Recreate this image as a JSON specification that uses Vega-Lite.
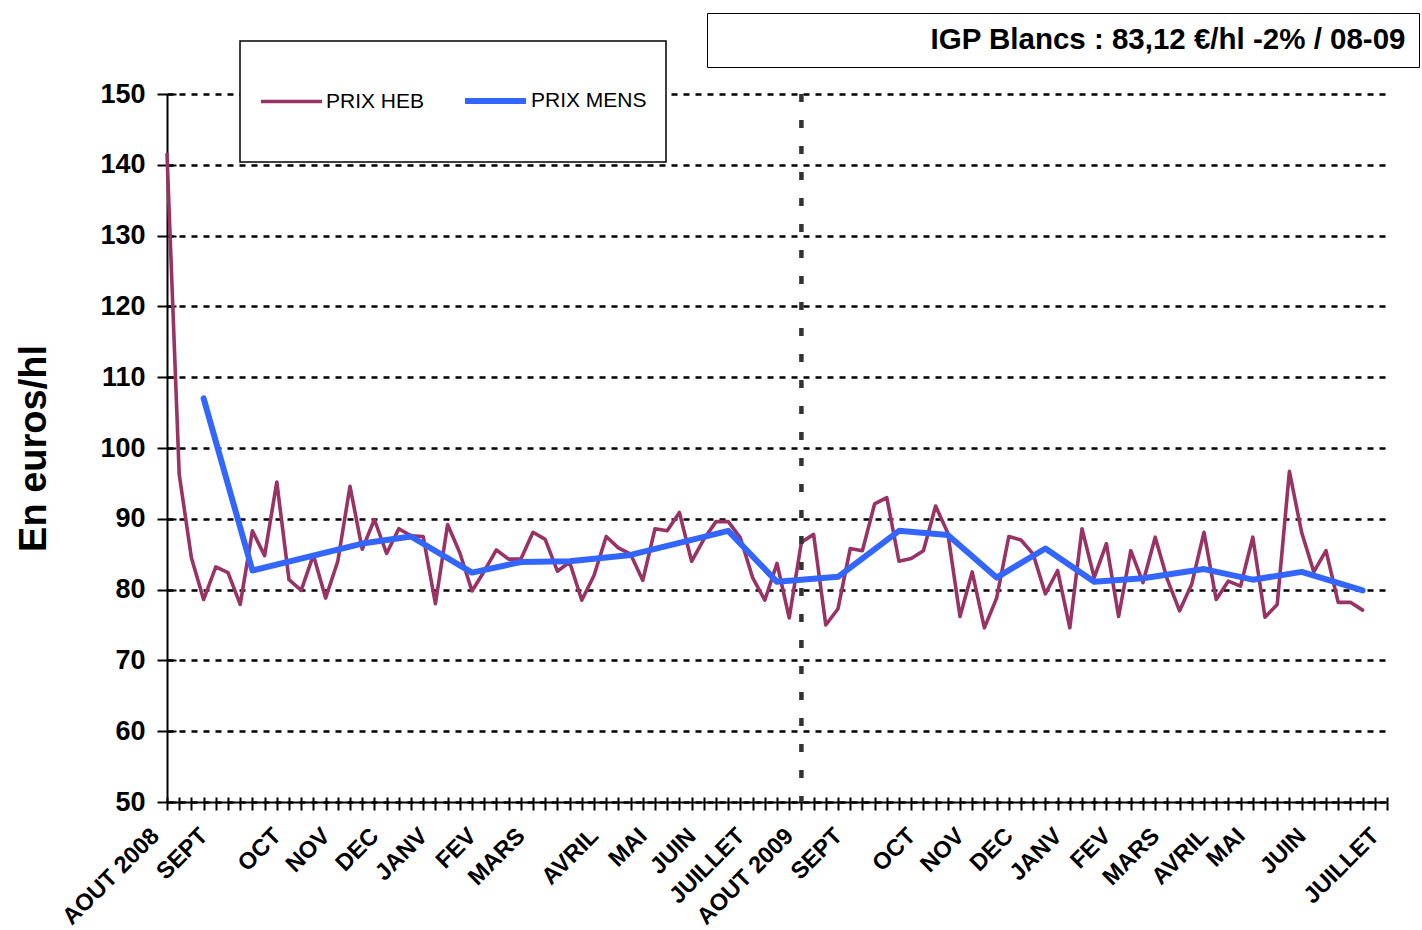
{
  "$schema": "https://vega.github.io/schema/vega-lite/v6.json",
  "width": 1220,
  "height": 708,
  "autosize": {"type": "none"},
  "padding": {"left": 167, "top": 94, "right": 35, "bottom": 128},
  "background": "white",
  "config": {"font": "Liberation Sans", "view": {"stroke": null}},
  "resolve": {"axis": {"x": "independent", "y": "independent"}},
  "layer": [
    {
      "data": {"values": [
        {"semaine": 0, "prix": 141.5, "serie": "PRIX HEB"},
        {"semaine": 1, "prix": 96.3, "serie": "PRIX HEB"},
        {"semaine": 2, "prix": 84.5, "serie": "PRIX HEB"},
        {"semaine": 3, "prix": 78.6, "serie": "PRIX HEB"},
        {"semaine": 4, "prix": 83.2, "serie": "PRIX HEB"},
        {"semaine": 5, "prix": 82.4, "serie": "PRIX HEB"},
        {"semaine": 6, "prix": 77.9, "serie": "PRIX HEB"},
        {"semaine": 7, "prix": 88.3, "serie": "PRIX HEB"},
        {"semaine": 8, "prix": 84.8, "serie": "PRIX HEB"},
        {"semaine": 9, "prix": 95.2, "serie": "PRIX HEB"},
        {"semaine": 10, "prix": 81.4, "serie": "PRIX HEB"},
        {"semaine": 11, "prix": 79.9, "serie": "PRIX HEB"},
        {"semaine": 12, "prix": 84.9, "serie": "PRIX HEB"},
        {"semaine": 13, "prix": 78.8, "serie": "PRIX HEB"},
        {"semaine": 14, "prix": 84.0, "serie": "PRIX HEB"},
        {"semaine": 15, "prix": 94.6, "serie": "PRIX HEB"},
        {"semaine": 16, "prix": 85.7, "serie": "PRIX HEB"},
        {"semaine": 17, "prix": 89.9, "serie": "PRIX HEB"},
        {"semaine": 18, "prix": 85.1, "serie": "PRIX HEB"},
        {"semaine": 19, "prix": 88.6, "serie": "PRIX HEB"},
        {"semaine": 20, "prix": 87.6, "serie": "PRIX HEB"},
        {"semaine": 21, "prix": 87.5, "serie": "PRIX HEB"},
        {"semaine": 22, "prix": 78.0, "serie": "PRIX HEB"},
        {"semaine": 23, "prix": 89.2, "serie": "PRIX HEB"},
        {"semaine": 24, "prix": 85.2, "serie": "PRIX HEB"},
        {"semaine": 25, "prix": 79.8, "serie": "PRIX HEB"},
        {"semaine": 26, "prix": 82.6, "serie": "PRIX HEB"},
        {"semaine": 27, "prix": 85.6, "serie": "PRIX HEB"},
        {"semaine": 28, "prix": 84.3, "serie": "PRIX HEB"},
        {"semaine": 29, "prix": 84.3, "serie": "PRIX HEB"},
        {"semaine": 30, "prix": 88.1, "serie": "PRIX HEB"},
        {"semaine": 31, "prix": 87.1, "serie": "PRIX HEB"},
        {"semaine": 32, "prix": 82.6, "serie": "PRIX HEB"},
        {"semaine": 33, "prix": 83.9, "serie": "PRIX HEB"},
        {"semaine": 34, "prix": 78.5, "serie": "PRIX HEB"},
        {"semaine": 35, "prix": 82.0, "serie": "PRIX HEB"},
        {"semaine": 36, "prix": 87.5, "serie": "PRIX HEB"},
        {"semaine": 37, "prix": 85.9, "serie": "PRIX HEB"},
        {"semaine": 38, "prix": 85.0, "serie": "PRIX HEB"},
        {"semaine": 39, "prix": 81.3, "serie": "PRIX HEB"},
        {"semaine": 40, "prix": 88.6, "serie": "PRIX HEB"},
        {"semaine": 41, "prix": 88.3, "serie": "PRIX HEB"},
        {"semaine": 42, "prix": 90.9, "serie": "PRIX HEB"},
        {"semaine": 43, "prix": 84.0, "serie": "PRIX HEB"},
        {"semaine": 44, "prix": 87.1, "serie": "PRIX HEB"},
        {"semaine": 45, "prix": 89.6, "serie": "PRIX HEB"},
        {"semaine": 46, "prix": 89.6, "serie": "PRIX HEB"},
        {"semaine": 47, "prix": 87.3, "serie": "PRIX HEB"},
        {"semaine": 48, "prix": 81.7, "serie": "PRIX HEB"},
        {"semaine": 49, "prix": 78.5, "serie": "PRIX HEB"},
        {"semaine": 50, "prix": 83.7, "serie": "PRIX HEB"},
        {"semaine": 51, "prix": 76.0, "serie": "PRIX HEB"},
        {"semaine": 52, "prix": 86.7, "serie": "PRIX HEB"},
        {"semaine": 53, "prix": 87.8, "serie": "PRIX HEB"},
        {"semaine": 54, "prix": 75.0, "serie": "PRIX HEB"},
        {"semaine": 55, "prix": 77.3, "serie": "PRIX HEB"},
        {"semaine": 56, "prix": 85.8, "serie": "PRIX HEB"},
        {"semaine": 57, "prix": 85.5, "serie": "PRIX HEB"},
        {"semaine": 58, "prix": 92.1, "serie": "PRIX HEB"},
        {"semaine": 59, "prix": 93.0, "serie": "PRIX HEB"},
        {"semaine": 60, "prix": 84.0, "serie": "PRIX HEB"},
        {"semaine": 61, "prix": 84.4, "serie": "PRIX HEB"},
        {"semaine": 62, "prix": 85.5, "serie": "PRIX HEB"},
        {"semaine": 63, "prix": 91.8, "serie": "PRIX HEB"},
        {"semaine": 64, "prix": 88.0, "serie": "PRIX HEB"},
        {"semaine": 65, "prix": 76.2, "serie": "PRIX HEB"},
        {"semaine": 66, "prix": 82.5, "serie": "PRIX HEB"},
        {"semaine": 67, "prix": 74.6, "serie": "PRIX HEB"},
        {"semaine": 68, "prix": 78.8, "serie": "PRIX HEB"},
        {"semaine": 69, "prix": 87.5, "serie": "PRIX HEB"},
        {"semaine": 70, "prix": 87.0, "serie": "PRIX HEB"},
        {"semaine": 71, "prix": 85.0, "serie": "PRIX HEB"},
        {"semaine": 72, "prix": 79.4, "serie": "PRIX HEB"},
        {"semaine": 73, "prix": 82.7, "serie": "PRIX HEB"},
        {"semaine": 74, "prix": 74.6, "serie": "PRIX HEB"},
        {"semaine": 75, "prix": 88.6, "serie": "PRIX HEB"},
        {"semaine": 76, "prix": 81.7, "serie": "PRIX HEB"},
        {"semaine": 77, "prix": 86.5, "serie": "PRIX HEB"},
        {"semaine": 78, "prix": 76.2, "serie": "PRIX HEB"},
        {"semaine": 79, "prix": 85.5, "serie": "PRIX HEB"},
        {"semaine": 80, "prix": 81.0, "serie": "PRIX HEB"},
        {"semaine": 81, "prix": 87.4, "serie": "PRIX HEB"},
        {"semaine": 82, "prix": 81.4, "serie": "PRIX HEB"},
        {"semaine": 83, "prix": 77.0, "serie": "PRIX HEB"},
        {"semaine": 84, "prix": 80.8, "serie": "PRIX HEB"},
        {"semaine": 85, "prix": 88.1, "serie": "PRIX HEB"},
        {"semaine": 86, "prix": 78.6, "serie": "PRIX HEB"},
        {"semaine": 87, "prix": 81.2, "serie": "PRIX HEB"},
        {"semaine": 88, "prix": 80.5, "serie": "PRIX HEB"},
        {"semaine": 89, "prix": 87.4, "serie": "PRIX HEB"},
        {"semaine": 90, "prix": 76.1, "serie": "PRIX HEB"},
        {"semaine": 91, "prix": 77.9, "serie": "PRIX HEB"},
        {"semaine": 92, "prix": 96.7, "serie": "PRIX HEB"},
        {"semaine": 93, "prix": 88.1, "serie": "PRIX HEB"},
        {"semaine": 94, "prix": 82.5, "serie": "PRIX HEB"},
        {"semaine": 95, "prix": 85.5, "serie": "PRIX HEB"},
        {"semaine": 96, "prix": 78.2, "serie": "PRIX HEB"},
        {"semaine": 97, "prix": 78.2, "serie": "PRIX HEB"},
        {"semaine": 98, "prix": 77.1, "serie": "PRIX HEB"},
        {"semaine": 3, "prix": 107.0, "serie": "PRIX MENS"},
        {"semaine": 7, "prix": 82.7, "serie": "PRIX MENS"},
        {"semaine": 16, "prix": 86.5, "serie": "PRIX MENS"},
        {"semaine": 20, "prix": 87.5, "serie": "PRIX MENS"},
        {"semaine": 25, "prix": 82.4, "serie": "PRIX MENS"},
        {"semaine": 29, "prix": 83.9, "serie": "PRIX MENS"},
        {"semaine": 33, "prix": 84.0, "serie": "PRIX MENS"},
        {"semaine": 38, "prix": 84.9, "serie": "PRIX MENS"},
        {"semaine": 46, "prix": 88.3, "serie": "PRIX MENS"},
        {"semaine": 50, "prix": 81.1, "serie": "PRIX MENS"},
        {"semaine": 55, "prix": 81.8, "serie": "PRIX MENS"},
        {"semaine": 60, "prix": 88.3, "serie": "PRIX MENS"},
        {"semaine": 64, "prix": 87.7, "serie": "PRIX MENS"},
        {"semaine": 68, "prix": 81.7, "serie": "PRIX MENS"},
        {"semaine": 72, "prix": 85.8, "serie": "PRIX MENS"},
        {"semaine": 76, "prix": 81.1, "serie": "PRIX MENS"},
        {"semaine": 80, "prix": 81.6, "serie": "PRIX MENS"},
        {"semaine": 85, "prix": 82.9, "serie": "PRIX MENS"},
        {"semaine": 89, "prix": 81.4, "serie": "PRIX MENS"},
        {"semaine": 93, "prix": 82.5, "serie": "PRIX MENS"},
        {"semaine": 98, "prix": 79.9, "serie": "PRIX MENS"}
      ]},
      "mark": {"type": "line", "strokeCap": "round", "strokeJoin": "round"},
      "encoding": {
        "x": {
          "field": "semaine", "type": "quantitative",
          "scale": {"domain": [0, 100], "nice": false, "zero": false},
          "axis": {
            "orient": "bottom",
            "values": [0,1,2,3,4,5,6,7,8,9,10,11,12,13,14,15,16,17,18,19,20,21,22,23,24,25,26,27,28,29,30,31,32,33,34,35,36,37,38,39,40,41,42,43,44,45,46,47,48,49,50,51,52,53,54,55,56,57,58,59,60,61,62,63,64,65,66,67,68,69,70,71,72,73,74,75,76,77,78,79,80,81,82,83,84,85,86,87,88,89,90,91,92,93,94,95,96,97,98,99,100],
            "labelExpr": "datum.value==0?'AOUT 2008':datum.value==4?'SEPT':datum.value==10?'OCT':datum.value==14?'NOV':datum.value==18?'DEC':datum.value==22?'JANV':datum.value==26?'FEV':datum.value==30?'MARS':datum.value==36?'AVRIL':datum.value==40?'MAI':datum.value==44?'JUIN':datum.value==48?'JUILLET':datum.value==52?'AOUT 2009':datum.value==56?'SEPT':datum.value==62?'OCT':datum.value==66?'NOV':datum.value==70?'DEC':datum.value==74?'JANV':datum.value==78?'FEV':datum.value==82?'MARS':datum.value==86?'AVRIL':datum.value==89?'MAI':datum.value==94?'JUIN':datum.value==100?'JUILLET':''",
            "labelAngle": -45,
            "labelAlign": "right",
            "labelBaseline": "middle",
            "labelFontSize": 23.5,
            "labelFontWeight": "bold",
            "labelColor": "black",
            "labelOverlap": false,
            "labelFlush": false,
            "labelBound": false,
            "labelPadding": 22,
            "labelOffset": -12,
            "tickSize": 8,
            "tickWidth": 2,
            "tickColor": "black",
            "domainColor": "black",
            "domainWidth": 2,
            "grid": false,
            "title": null
          }
        },
        "y": {
          "field": "prix", "type": "quantitative",
          "scale": {"domain": [50, 150], "nice": false, "zero": false},
          "axis": {
            "orient": "left",
            "values": [50,60,70,80,90,100,110,120,130,140,150],
            "title": "En euros/hl",
            "titleFontSize": 38,
            "titleFontWeight": "bold",
            "titleColor": "black",
            "titlePadding": 46,
            "labelFontSize": 27,
            "labelFontWeight": "bold",
            "labelColor": "black",
            "labelPadding": 12,
            "tickSize": 10,
            "tickWidth": 2,
            "tickColor": "black",
            "domainColor": "black",
            "domainWidth": 2,
            "grid": true,
            "gridColor": "black",
            "gridDash": [6, 6],
            "gridWidth": 2.7
          }
        },
        "color": {
          "field": "serie", "type": "nominal",
          "scale": {"domain": ["PRIX HEB", "PRIX MENS"], "range": ["#993366", "#3366FF"]},
          "legend": {
            "title": " ", "titleOrient": "bottom", "titleFontSize": 4, "titlePadding": 26,
            "orient": "none", "legendX": 73, "legendY": -53,
            "direction": "horizontal", "symbolType": "M-1,0H0.605", "symbolSize": 5776,
            "labelFontSize": 21, "labelColor": "black", "labelOffset": -13,
            "columnPadding": 28, "padding": 19, "strokeColor": "black", "fillColor": "white",
            "encode": {"legend": {"update": {"strokeWidth": {"value": 1.5}}}}
          }
        },
        "strokeWidth": {
          "field": "serie", "type": "ordinal",
          "scale": {"domain": ["PRIX HEB", "PRIX MENS"], "range": [3.6, 6]},
          "legend": {
            "title": " ", "titleOrient": "bottom", "titleFontSize": 4, "titlePadding": 26,
            "orient": "none", "legendX": 73, "legendY": -53,
            "direction": "horizontal", "symbolType": "M-1,0H0.605", "symbolSize": 5776,
            "labelFontSize": 21, "labelColor": "black", "labelOffset": -13,
            "columnPadding": 28, "padding": 19, "strokeColor": "black", "fillColor": "white",
            "encode": {"legend": {"update": {"strokeWidth": {"value": 1.5}}}}
          }
        }
      }
    },
    {
      "data": {"values": [{"debut": 52}]},
      "mark": {"type": "rule", "strokeDash": [8, 18], "strokeWidth": 4.5, "color": "#333333"},
      "encoding": {
        "x": {
          "field": "debut", "type": "quantitative",
          "axis": {
            "orient": "bottom",
            "values": [0,1,2,3,4,5,6,7,8,9,10,11,12,13,14,15,16,17,18,19,20,21,22,23,24,25,26,27,28,29,30,31,32,33,34,35,36,37,38,39,40,41,42,43,44,45,46,47,48,49,50,51,52,53,54,55,56,57,58,59,60,61,62,63,64,65,66,67,68,69,70,71,72,73,74,75,76,77,78,79,80,81,82,83,84,85,86,87,88,89,90,91,92,93,94,95,96,97,98,99,100],
            "tickSize": -5, "tickWidth": 2, "tickColor": "black",
            "labels": false, "domain": false, "grid": false, "title": null
          }
        }
      }
    },
    {
      "data": {"values": [{"note": "IGP Blancs : 83,12 €/hl -2% / 08-09", "prix": 100}]},
      "mark": {"type": "point", "opacity": 0},
      "encoding": {
        "y": {
          "field": "prix", "type": "quantitative",
          "axis": {
            "orient": "left",
            "values": [50,60,70,80,90,100,110,120,130,140,150],
            "tickSize": -9, "tickWidth": 2, "tickColor": "black",
            "labels": false, "domain": false, "grid": false, "title": null
          }
        },
        "shape": {
          "field": "note", "type": "nominal",
          "legend": {
            "title": null, "orient": "none", "legendX": 540, "legendY": -81,
            "symbolSize": 1, "symbolOpacity": 0, "labelOffset": 182,
            "labelFontSize": 29.5, "labelFontWeight": "bold", "labelColor": "black",
            "labelLimit": 0, "padding": 12, "strokeColor": "black", "fillColor": "white",
            "encode": {"legend": {"update": {"strokeWidth": {"value": 1.5}}}}
          }
        }
      }
    }
  ]
}
